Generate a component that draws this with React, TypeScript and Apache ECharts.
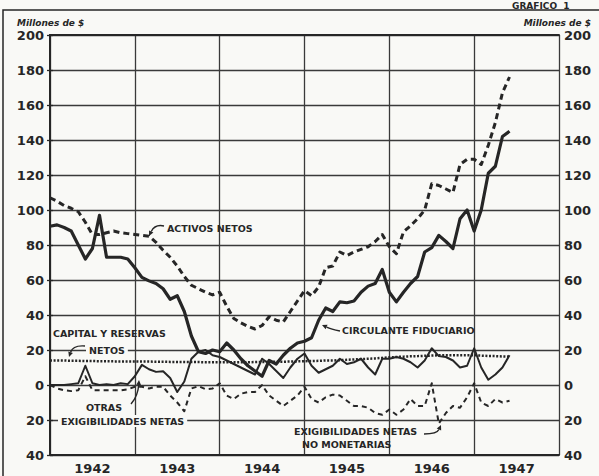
import React, { useEffect, useRef } from 'react';
import * as echarts from 'echarts';

// Monthly values, Jan 1942 (index 0) to Jun 1947 (index 65), millions of $
const yearLabels = ['1942', '1943', '1944', '1945', '1946', '1947'];

const activosNetos = [
  107, 105, 102.5, 101, 99, 93, 86, 86, 87, 88,
  87, 86.5, 86, 85.5, 85, 81.5, 77, 73, 68, 62,
  57, 55, 53, 51.5, 53, 45, 38, 35.5, 33.5, 32,
  34, 39, 37, 36, 42, 48, 54, 51, 56, 67,
  68, 76, 74, 76, 77.5, 79, 82, 86, 79, 75,
  87.5, 91, 95, 100, 115, 114, 112, 110, 126, 129,
  129, 126, 137, 150, 167, 176,
];

const circulanteFiduciario = [
  90.7, 91.5, 90, 88, 80, 72, 78, 97, 73, 73,
  73, 72, 67, 61.5, 59.5, 58, 55, 49, 51, 42,
  28, 19, 18, 20, 19, 24, 20, 15, 11, 8,
  5, 14, 12, 17, 21, 24, 25, 27, 37, 44,
  42, 47.5, 47, 48, 53, 56.5, 58, 66, 53, 47.5,
  53, 58, 62, 76, 78.5, 85.5, 82, 78, 95, 100,
  88, 100, 121, 125, 142, 145,
];

const capitalReservas = [
  14, 14, 14, 13.8, 13.8, 13.7, 13.7, 13.6, 13.6, 13.5,
  13.5, 13.5, 13.5, 13.4, 13.4, 13.3, 13.3, 13.2, 13.2, 13.2,
  13.1, 13.1, 13, 13, 13, 13, 13, 13, 13, 13.1,
  13.2, 13.2, 13.3, 13.3, 13.4, 13.5, 13.6, 13.7, 13.8, 14,
  14, 14.2, 14.4, 14.6, 14.8, 15, 15.2, 15.5, 15.8, 16,
  16.2, 16.4, 16.5, 16.7, 16.8, 17, 17, 17, 17, 17,
  17, 16.8, 16.6, 16.5, 16.3, 16.2,
];

const otrasExigibilidades = [
  0, 0, 0, 0.5, 1, 11, 1, 0, 0.5, 0,
  1, 0.5, 5, 11.5, 9, 7.5, 7.8, 4, -4, 2,
  15, 19, 20, 17, 16, 14, 12, 10, 8, 6,
  15, 12, 8, 4, 10, 15, 18, 11, 7, 9,
  11, 15, 12, 13, 15, 10, 6, 15, 15, 16,
  15, 13, 10, 14, 21, 16.5, 16, 14, 10, 11,
  21, 10, 3, 6, 10, 17,
];

const exigNoMonetarias = [
  0, -2, -3, -3.5, -3, 5, -3, -3, -3, -3,
  -3, -2.5, -1, -1, -2, -1, -1, -6, -10, -15,
  -2, -0.7, -2.4, -2, 1, -6, -8, -5, -4, -4,
  0, -6, -9, -12, -9, -6, -1, -8, -10, -7,
  -5.5, -6, -9, -12, -12, -13, -16, -17, -14, -17,
  -14, -8, -12, -12, 1, -22, -16, -12, -13, -7,
  1, -10, -12, -8, -10, -9,
];

const BG = '#f9f9f6';
const INK = '#262626';
const GRIDC = '#3a3a3a';
const FONT = 'DejaVu Sans';

const toPairs = (arr: number[]) => arr.map((v, i) => [i, v]);

function pointer(x1: number, y1: number, cx: number, cy: number, x2: number, y2: number) {
  const dx = x2 - cx;
  const dy = y2 - cy;
  const len = Math.sqrt(dx * dx + dy * dy) || 1;
  const ux = dx / len;
  const uy = dy / len;
  const px = -uy;
  const py = ux;
  const L = 5;
  const W = 2.4;
  const bx = x2 - ux * L;
  const by = y2 - uy * L;
  return [
    {
      type: 'bezierCurve',
      z: 3,
      silent: true,
      shape: { x1, y1, x2: bx, y2: by, cpx1: cx, cpy1: cy },
      style: { stroke: INK, lineWidth: 1.4, fill: 'none' },
    },
    {
      type: 'polygon',
      z: 3,
      silent: true,
      shape: {
        points: [
          [x2, y2],
          [bx + px * W, by + py * W],
          [bx - px * W, by - py * W],
        ],
      },
      style: { fill: INK },
    },
  ];
}

function label(text: string, x: number, y: number, onLine = false) {
  return {
    type: 'text',
    z: 1,
    silent: true,
    x,
    y,
    style: {
      text,
      fill: INK,
      fontSize: 9.5,
      fontWeight: 'bold',
      fontFamily: FONT,
      textAlign: 'left',
      textVerticalAlign: 'middle',
      backgroundColor: onLine ? BG : 'transparent',
      padding: onLine ? [1, 3, 1, 3] : 0,
    },
  };
}

export default function App() {
  const ref = useRef<HTMLDivElement>(null);

  useEffect(() => {
    if (!ref.current) return;
    const chart = echarts.init(ref.current, undefined, { renderer: 'svg' });

    const axisLabelStyle = {
      color: INK,
      fontSize: 13,
      fontWeight: 'bold' as const,
      fontFamily: FONT,
    };

    const yBase = {
      type: 'value' as const,
      min: -40,
      max: 200,
      interval: 20,
      axisLine: { show: true, lineStyle: { color: INK, width: 2 } },
      axisTick: { show: true, length: 3, lineStyle: { color: INK, width: 1.3 } },
    };

    const option: any = {
      animation: false,
      backgroundColor: BG,
      grid: { left: 50, right: 40, top: 35, bottom: 21, containLabel: false },
      xAxis: [
        {
          type: 'value',
          position: 'bottom',
          min: 0,
          max: 72,
          interval: 6,
          axisLine: { show: true, onZero: false, lineStyle: { color: INK, width: 2 } },
          axisTick: { show: false },
          splitLine: { show: false },
          axisLabel: {
            ...axisLabelStyle,
            margin: 7,
            formatter: (v: number) => (v % 12 === 6 ? yearLabels[(v - 6) / 12] : ''),
          },
        },
        {
          type: 'value',
          position: 'top',
          min: 0,
          max: 72,
          interval: 12,
          axisLine: { show: true, onZero: false, lineStyle: { color: INK, width: 2 } },
          axisTick: { show: false },
          axisLabel: { show: false },
          splitLine: { show: true, lineStyle: { color: GRIDC, width: 1.3 } },
        },
      ],
      yAxis: [
        {
          ...yBase,
          position: 'left',
          axisLabel: { ...axisLabelStyle, margin: 6, formatter: (v: number) => String(Math.abs(v)) },
          splitLine: { show: true, lineStyle: { color: GRIDC, width: 1.3 } },
        },
        {
          ...yBase,
          position: 'right',
          axisLabel: { ...axisLabelStyle, margin: 5, formatter: (v: number) => String(Math.abs(v)) },
          splitLine: { show: false },
        },
      ],
      series: [
        {
          name: 'Activos netos',
          type: 'line',
          xAxisIndex: 0,
          yAxisIndex: 0,
          symbol: 'none',
          data: toPairs(activosNetos),
          lineStyle: { color: INK, width: 3, type: [6, 4], join: 'round' },
          z: 4,
        },
        {
          name: 'Circulante fiduciario',
          type: 'line',
          xAxisIndex: 0,
          yAxisIndex: 0,
          symbol: 'none',
          data: toPairs(circulanteFiduciario),
          lineStyle: { color: INK, width: 3.2, join: 'round' },
          z: 4,
        },
        {
          name: 'Capital y reservas netos',
          type: 'line',
          xAxisIndex: 0,
          yAxisIndex: 0,
          symbol: 'none',
          data: toPairs(capitalReservas),
          lineStyle: { color: INK, width: 2.5, type: [2, 1.6] },
          z: 3,
        },
        {
          name: 'Otras exigibilidades netas',
          type: 'line',
          xAxisIndex: 0,
          yAxisIndex: 0,
          symbol: 'none',
          data: toPairs(otrasExigibilidades),
          lineStyle: { color: INK, width: 2, join: 'round' },
          z: 3,
        },
        {
          name: 'Exigibilidades netas no monetarias',
          type: 'line',
          xAxisIndex: 0,
          yAxisIndex: 0,
          symbol: 'none',
          data: toPairs(exigNoMonetarias),
          lineStyle: { color: INK, width: 2, type: [5, 4], join: 'round' },
          z: 3,
        },
      ],
      graphic: [
        {
          type: 'rect',
          z: 0,
          silent: true,
          shape: { x: 3, y: 10, width: 640, height: 520 },
          style: { fill: 'none', stroke: INK, lineWidth: 1.5 },
        },
        {
          type: 'text',
          silent: true,
          x: 512,
          y: 1,
          style: {
            text: 'GRAFICO  1',
            fill: INK,
            fontSize: 9,
            fontWeight: 'bold',
            fontFamily: FONT,
            textAlign: 'left',
            textVerticalAlign: 'top',
          },
        },
        {
          type: 'text',
          silent: true,
          x: 17,
          y: 23,
          style: {
            text: 'Millones de $',
            fill: INK,
            fontSize: 9,
            fontStyle: 'italic',
            fontWeight: 'bold',
            fontFamily: FONT,
            textAlign: 'left',
            textVerticalAlign: 'middle',
          },
        },
        {
          type: 'text',
          silent: true,
          x: 591,
          y: 23,
          style: {
            text: 'Millones de $',
            fill: INK,
            fontSize: 9,
            fontStyle: 'italic',
            fontWeight: 'bold',
            fontFamily: FONT,
            textAlign: 'right',
            textVerticalAlign: 'middle',
          },
        },
        label('ACTIVOS NETOS', 167, 228),
        label('CAPITAL Y RESERVAS', 53, 333),
        label('NETOS', 86, 350, true),
        label('OTRAS', 86, 407),
        label('EXIGIBILIDADES NETAS', 58, 421, true),
        label('CIRCULANTE FIDUCIARIO', 342, 330),
        label('EXIGIBILIDADES NETAS', 294, 431),
        label('NO MONETARIAS', 302, 444),
        ...pointer(164, 226, 155, 224, 149, 236),
        ...pointer(85, 346, 73, 345, 69, 357),
        ...pointer(131, 404, 138, 396, 139, 380),
        ...pointer(340, 331, 331, 329, 322, 325),
        ...pointer(424, 434, 437, 434, 441, 425),
      ],
    };

    chart.setOption(option);
    return () => chart.dispose();
  }, []);

  return (
    <div
      ref={ref}
      style={{ position: 'absolute', left: 0, top: 0, width: 599, height: 476 }}
    />
  );
}
